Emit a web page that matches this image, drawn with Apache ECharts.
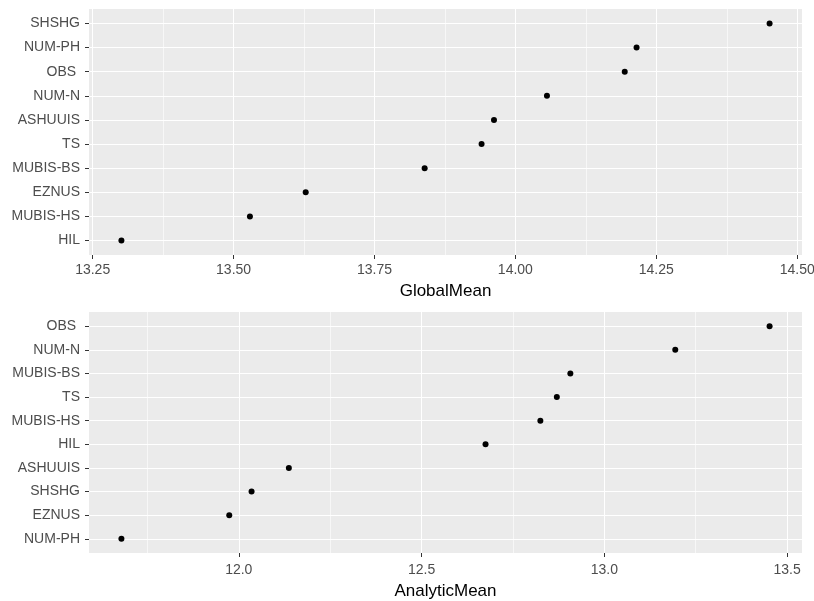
<!DOCTYPE html>
<html><head><meta charset="utf-8">
<script src="https://cdn.jsdelivr.net/npm/echarts@6/dist/echarts.min.js"></script>
<style>html,body{margin:0;padding:0;background:#fff}#c{width:814px;height:601px}</style>
</head><body><div id="c"></div>
<script>
// Data
const models = ['HIL','MUBIS-HS','EZNUS','MUBIS-BS','TS','ASHUUIS','NUM-N','OBS ','NUM-PH','SHSHG'];
const globalMean   = [13.301,13.529,13.628,13.839,13.940,13.962,14.056,14.194,14.215,14.451];
const analyticMean = [12.675,12.825,11.974,12.907,12.870,12.137,13.194,13.452,11.679,12.035];
const globalTicks   = [13.25,13.50,13.75,14.00,14.25,14.50];
const globalMinor   = [13.375,13.625,13.875,14.125,14.375];
const analyticTicks = [12.0,12.5,13.0,13.5];
const analyticMinor = [11.75,12.25,12.75,13.25];

const FONT = 'Liberation Sans, Arial, sans-serif';
const option = {grid:[],xAxis:[],yAxis:[],series:[],animation:false,backgroundColor:'#fff'};

function panel(idx, values, ticks, minor, digits, title, top, height, gap, margin){
  const order = values.map((v,i)=>i).sort((a,b)=>values[a]-values[b]);
  const cats = order.map(i=>models[i]);
  const lo = Math.min(...values), hi = Math.max(...values), span = hi-lo;
  const xmin = lo-0.05*span, xmax = hi+0.05*span;
  option.grid.push({left:89,right:12,top:top,height:height,show:true,backgroundColor:'#EBEBEB',borderWidth:0,
    containLabel:false,outerBoundsMode:'none'});
  const base = option.xAxis.length;
  option.xAxis.push({
    type:'value',gridIndex:idx,min:xmin,max:xmax,position:'bottom',
    name:title,nameLocation:'middle',nameGap:gap,
    nameTextStyle:{fontFamily:FONT,fontSize:17,color:'#000'},
    axisLine:{show:false},
    axisTick:{show:true,length:4,lineStyle:{color:'#333',width:1},customValues:ticks},
    axisLabel:{show:true,margin:margin,fontFamily:FONT,fontSize:14,color:'#4D4D4D',customValues:ticks,
      hideOverlap:false,formatter:v=>Number(v).toFixed(digits)},
    splitLine:{show:true,lineStyle:{color:'#fff',width:1.1}}
  });
  option.xAxis.push({
    type:'value',gridIndex:idx,min:xmin,max:xmax,position:'bottom',
    axisLine:{show:false},axisTick:{show:false,customValues:minor},axisLabel:{show:false,customValues:minor},
    splitLine:{show:true,lineStyle:{color:'#fff',width:0.6}}
  });
  const pos = cats.map((c,i)=>i+1);
  option.yAxis.push({
    type:'value',gridIndex:idx,min:0.4,max:10.6,
    axisLine:{show:false},
    axisTick:{show:true,length:4,lineStyle:{color:'#333',width:1},customValues:pos},
    axisLabel:{show:true,margin:9,fontFamily:FONT,fontSize:14,color:'#4D4D4D',customValues:pos,
      formatter:v=>cats[Math.round(v)-1]||''},
    splitLine:{show:true,lineStyle:{color:'#fff',width:1.1}}
  });
  option.series.push({
    type:'scatter',xAxisIndex:base,yAxisIndex:idx,symbolSize:6,
    itemStyle:{color:'#000',opacity:1},
    data:order.map((i,k)=>[values[i],k+1])
  });
}
panel(0, globalMean, globalTicks, globalMinor, 2, 'GlobalMean', 9, 246, 28, 8);
panel(1, analyticMean, analyticTicks, analyticMinor, 1, 'AnalyticMean', 312, 241, 30, 10);

const chart = echarts.init(document.getElementById('c'),null,{renderer:'canvas'});
chart.setOption(option);
</script></body></html>
